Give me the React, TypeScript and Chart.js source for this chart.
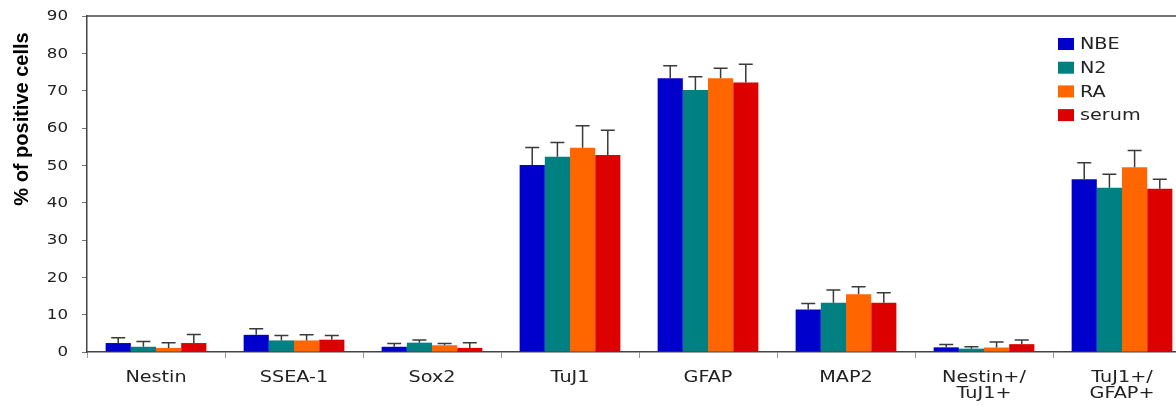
import React, { useEffect, useRef } from "react";
import { Chart, registerables } from "chart.js";

Chart.register(...registerables);

const categories: string[][] = [
  ["Nestin"],
  ["SSEA-1"],
  ["Sox2"],
  ["TuJ1"],
  ["GFAP"],
  ["MAP2"],
  ["Nestin+/", "TuJ1+"],
  ["TuJ1+/", "GFAP+"],
];

const seriesNames = ["NBE", "N2", "RA", "serum"];
const seriesColors = ["#0000CC", "#008080", "#FF6600", "#DD0000"];

const nbe = [2.4, 4.6, 1.4, 50.1, 73.3, 11.4, 1.25, 46.3];
const nbeErr = [1.4, 1.6, 0.9, 4.7, 3.4, 1.6, 0.75, 4.4];
const n2 = [1.4, 3.1, 2.5, 52.3, 70.2, 13.2, 0.9, 44.0];
const n2Err = [1.4, 1.3, 0.7, 3.8, 3.5, 3.4, 0.5, 3.6];
const ra = [1.1, 3.1, 1.8, 54.7, 73.3, 15.5, 1.2, 49.5];
const raErr = [1.4, 1.5, 0.5, 5.9, 2.7, 2.0, 1.5, 4.5];
const serum = [2.4, 3.3, 1.1, 52.8, 72.2, 13.2, 2.1, 43.7];
const serumErr = [2.3, 1.1, 1.4, 6.6, 4.9, 2.7, 1.1, 2.6];

const seriesValues = [nbe, n2, ra, serum];
const seriesErrors = [nbeErr, n2Err, raErr, serumErr];

const yTitle = "% of positive cells";
const yMin = 0;
const yMax = 90;
const yStep = 10;

const FONT = "'DejaVu Sans', Verdana, sans-serif";
const TEXT = "#222";

function stretchedText(
  ctx: CanvasRenderingContext2D,
  text: string,
  x: number,
  y: number,
  sx: number
) {
  ctx.save();
  ctx.translate(x, y);
  ctx.scale(sx, 1);
  ctx.fillText(text, 0, 0);
  ctx.restore();
}

export default function App() {
  const canvasRef = useRef<HTMLCanvasElement | null>(null);

  useEffect(() => {
    const canvas = canvasRef.current;
    if (!canvas) return;

    const errorBarPlugin = {
      id: "errorBars",
      afterDatasetsDraw(chart: any) {
        const ctx = chart.ctx;
        const yScale = chart.scales.y;
        ctx.save();
        ctx.strokeStyle = "#3a3a3a";
        ctx.lineWidth = 1.5;
        chart.data.datasets.forEach((ds: any, di: number) => {
          const meta = chart.getDatasetMeta(di);
          meta.data.forEach((bar: any, i: number) => {
            const v = seriesValues[di][i];
            const e = seriesErrors[di][i];
            const x = bar.x;
            const y0 = yScale.getPixelForValue(v);
            const y1 = yScale.getPixelForValue(v + e);
            ctx.beginPath();
            ctx.moveTo(x, y0);
            ctx.lineTo(x, y1);
            ctx.moveTo(x - 7, y1);
            ctx.lineTo(x + 7, y1);
            ctx.stroke();
          });
        });
        ctx.restore();
      },
    };

    const decorPlugin = {
      id: "decor",
      afterDraw(chart: any) {
        const ctx = chart.ctx as CanvasRenderingContext2D;
        const area = chart.chartArea;
        const xScale = chart.scales.x;
        const yScale = chart.scales.y;
        ctx.save();
        // top border
        ctx.strokeStyle = "#444";
        ctx.lineWidth = 1.5;
        ctx.beginPath();
        ctx.moveTo(area.left, area.top);
        ctx.lineTo(area.right, area.top);
        ctx.stroke();

        // y tick labels
        ctx.fillStyle = TEXT;
        ctx.font = `14.5px ${FONT}`;
        ctx.textAlign = "right";
        ctx.textBaseline = "middle";
        for (let v = yMin; v <= yMax; v += yStep) {
          stretchedText(ctx, String(v), 68, yScale.getPixelForValue(v) + 0.5, 1.15);
        }

        // x labels
        ctx.font = `16px ${FONT}`;
        ctx.textAlign = "center";
        ctx.textBaseline = "alphabetic";
        categories.forEach((lines, i) => {
          const x = xScale.getPixelForValue(i);
          lines.forEach((line, k) => {
            stretchedText(ctx, line, x, 381.5 + k * 16.5, 1.2);
          });
        });

        // legend
        const lx = 1058;
        const ly = 44;
        const gap = 23.7;
        ctx.textAlign = "left";
        ctx.textBaseline = "middle";
        seriesNames.forEach((name, i) => {
          const cy = ly + i * gap;
          ctx.fillStyle = seriesColors[i];
          ctx.fillRect(lx, cy - 6, 16, 12);
          ctx.fillStyle = TEXT;
          stretchedText(ctx, name, lx + 22, cy + 1, 1.2);
        });

        // y title
        ctx.translate(22, 119);
        ctx.rotate(-Math.PI / 2);
        ctx.font = `bold 20px 'Liberation Sans', Arial, sans-serif`;
        ctx.fillStyle = "#000";
        ctx.textAlign = "center";
        ctx.textBaseline = "middle";
        ctx.fillText(yTitle, 0, 0);
        ctx.restore();
      },
    };

    const chart = new Chart(canvas, {
      type: "bar",
      data: {
        labels: categories,
        datasets: seriesNames.map((name, i) => ({
          label: name,
          data: seriesValues[i],
          backgroundColor: seriesColors[i],
          borderWidth: 0,
          barPercentage: 1.0,
          categoryPercentage: 0.73,
        })),
      },
      options: {
        responsive: false,
        animation: false,
        devicePixelRatio: 1,
        layout: { padding: { left: 0, right: 9, top: 16, bottom: 0 } },
        plugins: {
          legend: { display: false },
          tooltip: { enabled: false },
          title: { display: false },
        },
        scales: {
          x: {
            type: "category",
            offset: true,
            grid: {
              display: true,
              drawOnChartArea: false,
              drawTicks: true,
              tickLength: 6,
              color: "#9a9a9a",
              lineWidth: 1,
              offset: true,
            },
            border: { display: true, color: "#444", width: 1.5 },
            ticks: { display: false },
            afterFit(scale: any) {
              scale.height = 54;
            },
          },
          y: {
            min: yMin,
            max: yMax,
            grid: {
              display: true,
              drawOnChartArea: false,
              drawTicks: true,
              tickLength: 5,
              color: "#777",
              lineWidth: 1,
            },
            border: { display: true, color: "#444", width: 1.5 },
            ticks: {
              display: false,
              stepSize: yStep,
            },
            afterFit(scale: any) {
              scale.width = 87;
            },
          },
        },
      },
      plugins: [errorBarPlugin, decorPlugin],
    } as any);

    return () => {
      chart.destroy();
    };
  }, []);

  return (
    <div
      style={{
        position: "fixed",
        left: 0,
        top: 0,
        width: 1176,
        height: 406,
        overflow: "hidden",
        background: "#fff",
      }}
    >
      <canvas
        ref={canvasRef}
        width={1200}
        height={406}
        style={{ display: "block", width: 1200, height: 406 }}
      />
    </div>
  );
}
